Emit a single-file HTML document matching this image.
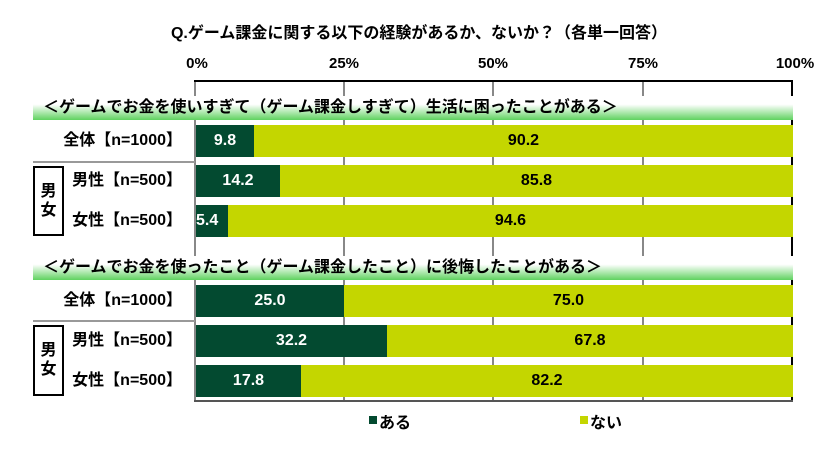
<!DOCTYPE html>
<html><head><meta charset="utf-8"><style>
body{margin:0;width:838px;height:453px;background:#fff;overflow:hidden;position:relative;font-family:"Liberation Sans","Noto Sans CJK JP",sans-serif;font-weight:bold;color:#000}
.a{position:absolute}
.band{position:absolute;left:33px;width:760px;background:linear-gradient(#fff 0%,#fff 35%,#5fd25f 100%);font-size:16px;line-height:24px;padding-left:10px;box-sizing:border-box;white-space:nowrap}
.bar{position:absolute;height:32px}
.d{background:#034a30;color:#fff;font-size:16px;line-height:32px;text-align:center}
.l{background:#c4d600;color:#000;font-size:16px;line-height:32px;text-align:center;font-weight:bold}
.lab{position:absolute;right:656px;font-size:16px;line-height:32px;white-space:nowrap}
.box{position:absolute;left:33px;width:31px;border:2px solid #000;box-sizing:border-box;font-size:16px;text-align:center;line-height:19px}
.sep{position:absolute;left:33px;width:162px;height:2px;background:#999}
.g{position:absolute;width:2px;background:#888}
.tk{position:absolute;font-size:15px;top:55px;transform:translateX(-50%)}
</style></head><body>
<div class="a" style="left:0;width:838px;top:19px;text-align:center;font-size:16px">Q.ゲーム課金に関する以下の経験があるか、ないか？（各単一回答）</div>
<div class="tk" style="left:197px">0%</div><div class="tk" style="left:344px">25%</div><div class="tk" style="left:493px">50%</div><div class="tk" style="left:643px">75%</div><div class="tk" style="left:795px">100%</div>
<div class="g" style="left:343px;top:81px;height:320px"></div>
<div class="g" style="left:492px;top:81px;height:320px"></div>
<div class="g" style="left:642px;top:81px;height:320px"></div>
<div class="g" style="left:194px;top:81px;height:321px"></div>
<div class="a" style="left:791px;top:81px;width:2px;height:320px;background:#000"></div>
<div class="a" style="left:194px;top:80px;width:599px;height:2px;background:#000"></div>
<div class="a" style="left:194px;top:400px;width:599px;height:2px;background:#555"></div>
<div class="band" style="top:96px;height:24px">＜ゲームでお金を使いすぎて（ゲーム課金しすぎて）生活に困ったことがある＞</div>
<div class="band" style="top:256px;height:24px">＜ゲームでお金を使ったこと（ゲーム課金したこと）に後悔したことがある＞</div>

<div class="lab" style="top:125px">全体【n=1000】</div>
<div class="lab" style="top:165px">男性【n=500】</div>
<div class="lab" style="top:205px">女性【n=500】</div>
<div class="sep" style="top:161px"></div>
<div class="box" style="top:166px;height:70px;padding-top:14px">男<br>女</div>
<div class="bar d" style="left:196px;top:125px;width:58px">9.8</div><div class="bar l" style="left:254px;top:125px;width:539px">90.2</div>
<div class="bar d" style="left:196px;top:165px;width:84px">14.2</div><div class="bar l" style="left:280px;top:165px;width:513px">85.8</div>
<div class="bar d" style="left:196px;top:205px;width:32px;text-align:left">5.4</div><div class="bar l" style="left:228px;top:205px;width:565px">94.6</div>

<div class="lab" style="top:285px">全体【n=1000】</div>
<div class="lab" style="top:325px">男性【n=500】</div>
<div class="lab" style="top:365px">女性【n=500】</div>
<div class="sep" style="top:320px"></div>
<div class="box" style="top:325px;height:71px;padding-top:14px">男<br>女</div>
<div class="bar d" style="left:196px;top:285px;width:148px">25.0</div><div class="bar l" style="left:344px;top:285px;width:449px">75.0</div>
<div class="bar d" style="left:196px;top:325px;width:191px">32.2</div><div class="bar l" style="left:387px;top:325px;width:406px">67.8</div>
<div class="bar d" style="left:196px;top:365px;width:105px">17.8</div><div class="bar l" style="left:301px;top:365px;width:492px">82.2</div>

<div class="a" style="left:369px;top:416px;width:8px;height:8px;background:#034a30"></div>
<div class="a" style="left:379px;top:409px;font-size:16px">ある</div>
<div class="a" style="left:580px;top:416px;width:8px;height:8px;background:#c4d600"></div>
<div class="a" style="left:590px;top:409px;font-size:16px">ない</div>
</body></html>
